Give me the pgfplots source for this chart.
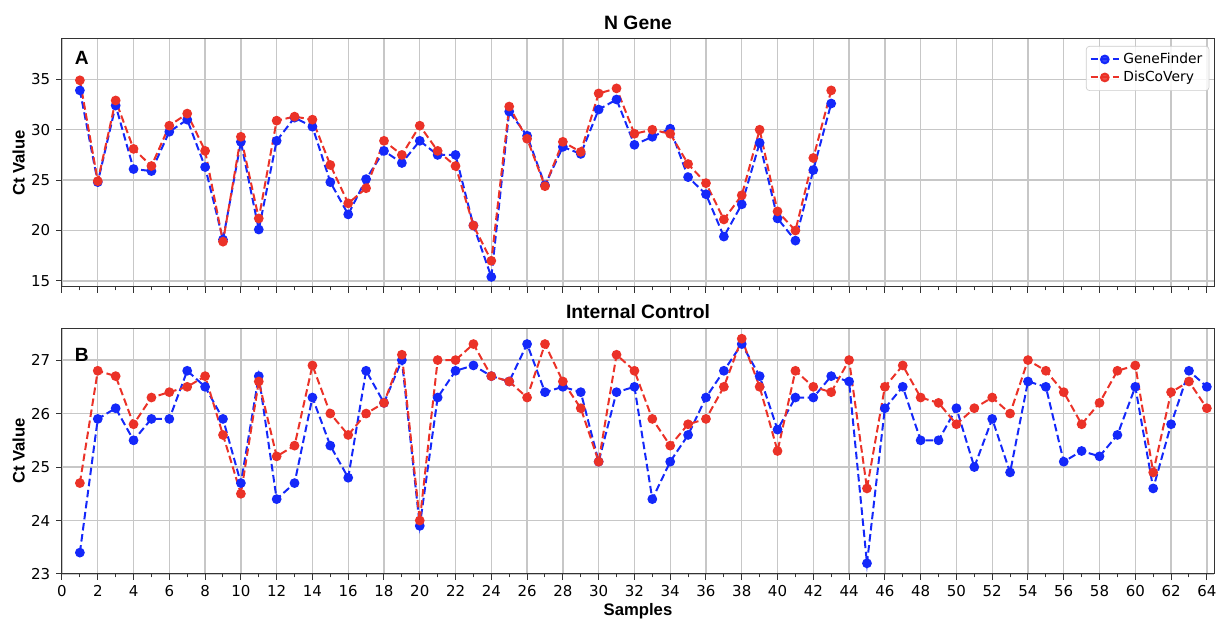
\documentclass[border=0pt]{standalone}
\usepackage{fontspec}
\setmainfont{DejaVu Sans}
\newfontfamily\arialfont{Liberation Sans}
\usepackage{pgfplots}
\usepackage{pgfplotstable}
\pgfplotsset{compat=1.18}

\definecolor{gfblue}{RGB}{20,40,250}
\definecolor{dcred}{RGB}{235,50,40}

% N gene Ct values
\pgfplotstableread{
s gf dc
1 33.9 34.9
2 24.8 24.9
3 32.4 32.9
4 26.1 28.1
5 25.9 26.4
6 29.8 30.4
7 31.0 31.6
8 26.3 27.9
9 19.1 18.9
10 28.8 29.3
11 20.1 21.2
12 28.9 30.9
13 31.2 31.3
14 30.3 31.0
15 24.8 26.5
16 21.6 22.7
17 25.1 24.2
18 27.9 28.9
19 26.7 27.5
20 28.9 30.4
21 27.5 27.9
22 27.5 26.4
23 20.5 20.5
24 15.4 17.0
25 31.8 32.3
26 29.4 29.1
27 24.5 24.4
28 28.3 28.8
29 27.6 27.8
30 32.0 33.6
31 33.0 34.1
32 28.5 29.6
33 29.3 30.0
34 30.1 29.6
35 25.3 26.6
36 23.6 24.7
37 19.4 21.1
38 22.6 23.5
39 28.7 30.0
40 21.2 21.9
41 19.0 20.0
42 26.0 27.2
43 32.6 33.9
}\ngene

% internal control Ct values
\pgfplotstableread{
s gf dc
1 23.4 24.7
2 25.9 26.8
3 26.1 26.7
4 25.5 25.8
5 25.9 26.3
6 25.9 26.4
7 26.8 26.5
8 26.5 26.7
9 25.9 25.6
10 24.7 24.5
11 26.7 26.6
12 24.4 25.2
13 24.7 25.4
14 26.3 26.9
15 25.4 26.0
16 24.8 25.6
17 26.8 26.0
18 26.2 26.2
19 27.0 27.1
20 23.9 24.0
21 26.3 27.0
22 26.8 27.0
23 26.9 27.3
24 26.7 26.7
25 26.6 26.6
26 27.3 26.3
27 26.4 27.3
28 26.5 26.6
29 26.4 26.1
30 25.1 25.1
31 26.4 27.1
32 26.5 26.8
33 24.4 25.9
34 25.1 25.4
35 25.6 25.8
36 26.3 25.9
37 26.8 26.5
38 27.3 27.4
39 26.7 26.5
40 25.7 25.3
41 26.3 26.8
42 26.3 26.5
43 26.7 26.4
44 26.6 27.0
45 23.2 24.6
46 26.1 26.5
47 26.5 26.9
48 25.5 26.3
49 25.5 26.2
50 26.1 25.8
51 25.0 26.1
52 25.9 26.3
53 24.9 26.0
54 26.6 27.0
55 26.5 26.8
56 25.1 26.4
57 25.3 25.8
58 25.2 26.2
59 25.6 26.8
60 26.5 26.9
61 24.6 24.9
62 25.8 26.4
63 26.8 26.6
64 26.5 26.1
}\ictrl

\pgfplotsset{
  ctpanel/.style={
    width=691.2pt, scale only axis,
    xmin=0, xmax=64.4,
    xtick={0,2,...,64}, minor x tick num=1,
    grid=major,
    major grid style={black!22, line width=0.8pt},
    axis line style={black!80, line width=0.6pt},
    tick align=outside, tick pos=left,
    major tick length=3.5pt, minor tick length=2pt,
    tick style={black!80, line width=0.6pt},
    tick label style={font=\fontsize{9}{10}\selectfont},
    /pgf/number format/assume math mode=true,
    ylabel={Ct Value},
    ylabel style={font=\arialfont\fontsize{10}{11}\selectfont\bfseries, yshift=-3pt},
    title style={font=\arialfont\fontsize{11.6}{13}\selectfont\bfseries, yshift=-4pt},
  },
  gfline/.style={gfblue, dashed, dash pattern=on 4.5pt off 2.2pt, line width=1.2pt,
    mark=*, mark size=2.3pt, mark options={solid}},
  dcline/.style={dcred, dashed, dash pattern=on 4.5pt off 2.2pt, line width=1.2pt,
    mark=*, mark size=2.3pt, mark options={solid}},
}

\begin{document}
\begin{tikzpicture}
\begin{axis}[ctpanel,
  at={(0,172.2pt)}, anchor=south west,
  height=148.8pt,
  ymin=14.4, ymax=39,
  ytick={15,20,25,30,35},
  xticklabels={},
  title={N Gene},
  legend style={at={(rel axis cs:0.996,0.972)}, anchor=north east,
    font=\fontsize{8.3}{10}\selectfont, draw=black!20, rounded corners=2pt,
    fill=white, fill opacity=0.85, text opacity=1, row sep=-1pt,
    inner sep=2pt},
  legend cell align=left,
]
\addplot[gfline] table[x=s, y=gf] {\ngene};
\addlegendentry{GeneFinder}
\addplot[dcline] table[x=s, y=dc] {\ngene};
\addlegendentry{DisCoVery}
\node[anchor=west, font=\arialfont\fontsize{11.5}{13}\selectfont\bfseries] at (rel axis cs:0.006,0.925) {A};
\end{axis}

\begin{axis}[ctpanel,
  at={(0,0)}, anchor=south west,
  height=147.6pt,
  ymin=23, ymax=27.6,
  ytick={23,24,25,26,27},
  xlabel={Samples},
  xlabel style={font=\arialfont\fontsize{10}{11}\selectfont\bfseries, yshift=3pt},
  title={Internal Control},
]
\addplot[gfline] table[x=s, y=gf] {\ictrl};
\addplot[dcline] table[x=s, y=dc] {\ictrl};
\node[anchor=west, font=\arialfont\fontsize{11.5}{13}\selectfont\bfseries] at (rel axis cs:0.006,0.89) {B};
\end{axis}
\pgfresetboundingbox
\path (-37.2pt,-27pt) rectangle (692.4pt,344.4pt);
\end{tikzpicture}
\end{document}
